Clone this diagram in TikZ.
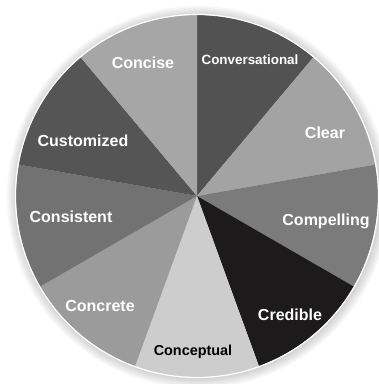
\documentclass[tikz,border=0pt]{standalone}
\usepackage{fontspec}
\setmainfont{Liberation Sans}
\usepackage{tikz}
\definecolor{gConv}{HTML}{525252}
\definecolor{gClear}{HTML}{A3A3A3}
\definecolor{gComp}{HTML}{7B7B7B}
\definecolor{gCred}{HTML}{1C1A1B}
\definecolor{gCept}{HTML}{CDCDCD}
\definecolor{gCret}{HTML}{9B9B9B}
\definecolor{gCons}{HTML}{727272}
\definecolor{gCust}{HTML}{555555}
\definecolor{gConc}{HTML}{A6A6A6}
\tikzset{
	% wedge fill and the two label styles: light text and dark text
	wedge/.style={draw=none},
	light label/.style={text=white, font=\bfseries\fontsize{16}{16}\selectfont, inner sep=0},
	dark label/.style={text=black, font=\bfseries\fontsize{14.4}{14.4}\selectfont, inner sep=0}
}

\begin{document}
\begin{tikzpicture}[x=1pt, y=1pt]

  \useasboundingbox (0,0) rectangle (379,384);
  \coordinate (c) at (197,188);

  %% soft shadow round the pie
  \foreach \r in {2,4,6,8,10}
    \fill[black, opacity=0.035] ([shift={(1,-1)}]c) circle (181+\r);

  %% the nine wedges, 40 degrees each
  \foreach \col/\a in {gConv/50, gClear/10, gComp/-30, gCred/-70, gCept/-110,
                       gCret/-150, gCons/-190, gCust/-230, gConc/-270}
    \fill[wedge, \col] (c) -- ++(\a+40:181) arc (\a+40:\a:181) -- cycle;

  %% thin white rim
  \draw[white, line width=1.2] (c) circle (181.5);

  \node(concise) at (143, 321) [light label]{Concise};
  \node(conv) at (250, 324) [light label, font=\bfseries\fontsize{13.4}{13.4}\selectfont]{Conversational};
  \node(clear) at (325, 251) [light label]{Clear};
  \node(compelling) at (326, 163) [light label]{Compelling};
  \node(credible) at (290, 69) [light label]{Credible};
  \node(conceptual) at (193, 32) [dark label]{Conceptual};
  \node(concrete) at (100, 78) [light label]{Concrete};
  \node(consistent) at (71, 167) [light label]{Consistent};
  \node(customized) at (83, 243) [light label]{Customized};

\end{tikzpicture}
\end{document}
